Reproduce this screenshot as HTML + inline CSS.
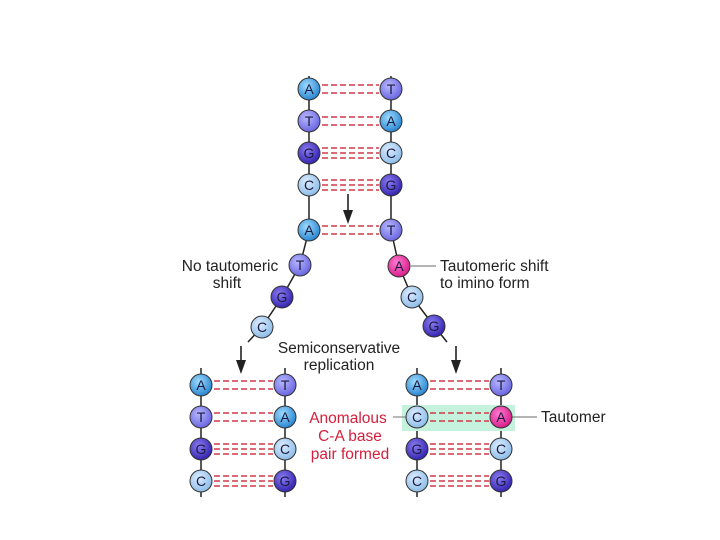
<!DOCTYPE html>
<html><head><meta charset="utf-8"><style>
html,body{margin:0;padding:0;background:#fff;}
svg{display:block;font-family:"Liberation Sans",sans-serif;}
</style></head><body>
<svg width="720" height="540" viewBox="0 0 720 540" xmlns="http://www.w3.org/2000/svg">
<defs>
<radialGradient id="gA" cx="40%" cy="35%" r="65%"><stop offset="0" stop-color="#9fdcff"/><stop offset="1" stop-color="#2a86d0"/></radialGradient>
<radialGradient id="gT" cx="40%" cy="35%" r="65%"><stop offset="0" stop-color="#b8b8ff"/><stop offset="1" stop-color="#6a66e0"/></radialGradient>
<radialGradient id="gG" cx="40%" cy="35%" r="65%"><stop offset="0" stop-color="#8a7cf0"/><stop offset="1" stop-color="#3424b0"/></radialGradient>
<radialGradient id="gC" cx="40%" cy="35%" r="65%"><stop offset="0" stop-color="#dcecff"/><stop offset="1" stop-color="#8ebde8"/></radialGradient>
<radialGradient id="gP" cx="40%" cy="35%" r="65%"><stop offset="0" stop-color="#ff7ad0"/><stop offset="1" stop-color="#d81e8a"/></radialGradient>
</defs>
<g stroke="#222" stroke-width="1.5" fill="none">
<line x1="309" y1="76" x2="309" y2="232"/><line x1="391" y1="76" x2="391" y2="232"/>
<polyline points="309,230 300,265 282,297 262,327 248,342"/>
<polyline points="391,230 399,266 412,297 434,326 447,342"/>
<line x1="201" y1="368" x2="201" y2="497"/><line x1="285" y1="368" x2="285" y2="497"/>
<line x1="417" y1="368" x2="417" y2="497"/><line x1="501" y1="368" x2="501" y2="497"/>
</g>
<g stroke="#222" stroke-width="1.6">
<line x1="348" y1="194" x2="348" y2="212"/>
<line x1="241" y1="346" x2="241" y2="362"/>
<line x1="456" y1="346" x2="456" y2="362"/>
</g>
<g fill="#222">
<polygon points="343,210 353,210 348,224"/>
<polygon points="236,360 246,360 241,374"/>
<polygon points="451,360 461,360 456,374"/>
</g>
<rect x="402" y="405" width="113" height="26" fill="#c4f2dc"/>
<g stroke="#d23a4a" stroke-width="1.5" stroke-dasharray="6,3">
<line x1="322" x2="379" y1="85" y2="85"/><line x1="322" x2="379" y1="93" y2="93"/>
<line x1="322" x2="379" y1="117" y2="117"/><line x1="322" x2="379" y1="125" y2="125"/>
<line x1="322" x2="379" y1="148" y2="148"/><line x1="322" x2="379" y1="153" y2="153"/><line x1="322" x2="379" y1="158" y2="158"/>
<line x1="322" x2="379" y1="180" y2="180"/><line x1="322" x2="379" y1="185" y2="185"/><line x1="322" x2="379" y1="190" y2="190"/>
<line x1="322" x2="379" y1="226" y2="226"/><line x1="322" x2="379" y1="234" y2="234"/>
<line x1="214" x2="273" y1="381" y2="381"/><line x1="214" x2="273" y1="389" y2="389"/>
<line x1="214" x2="273" y1="413" y2="413"/><line x1="214" x2="273" y1="421" y2="421"/>
<line x1="214" x2="273" y1="444" y2="444"/><line x1="214" x2="273" y1="449" y2="449"/><line x1="214" x2="273" y1="454" y2="454"/>
<line x1="214" x2="273" y1="476" y2="476"/><line x1="214" x2="273" y1="481" y2="481"/><line x1="214" x2="273" y1="486" y2="486"/>
<line x1="430" x2="489" y1="381" y2="381"/><line x1="430" x2="489" y1="389" y2="389"/>
<line x1="430" x2="489" y1="413" y2="413"/><line x1="430" x2="489" y1="421" y2="421"/>
<line x1="430" x2="489" y1="444" y2="444"/><line x1="430" x2="489" y1="449" y2="449"/><line x1="430" x2="489" y1="454" y2="454"/>
<line x1="430" x2="489" y1="476" y2="476"/><line x1="430" x2="489" y1="481" y2="481"/><line x1="430" x2="489" y1="486" y2="486"/>
</g>
<g stroke="#888" stroke-width="1.2">
<line x1="411" y1="266" x2="436" y2="266"/>
<line x1="393" y1="417" x2="406" y2="417"/>
<line x1="512" y1="417" x2="537" y2="417"/>
</g>
<g stroke="#333" stroke-width="1">
<circle cx="309" cy="89" r="11" fill="url(#gA)"/><circle cx="391" cy="89" r="11" fill="url(#gT)"/>
<circle cx="309" cy="121" r="11" fill="url(#gT)"/><circle cx="391" cy="121" r="11" fill="url(#gA)"/>
<circle cx="309" cy="153" r="11" fill="url(#gG)"/><circle cx="391" cy="153" r="11" fill="url(#gC)"/>
<circle cx="309" cy="185" r="11" fill="url(#gC)"/><circle cx="391" cy="185" r="11" fill="url(#gG)"/>
<circle cx="309" cy="230" r="11" fill="url(#gA)"/><circle cx="391" cy="230" r="11" fill="url(#gT)"/>
<circle cx="300" cy="265" r="11" fill="url(#gT)"/><circle cx="399" cy="266" r="11" fill="url(#gP)"/>
<circle cx="282" cy="297" r="11" fill="url(#gG)"/><circle cx="412" cy="297" r="11" fill="url(#gC)"/>
<circle cx="262" cy="327" r="11" fill="url(#gC)"/><circle cx="434" cy="326" r="11" fill="url(#gG)"/>
<circle cx="201" cy="385" r="11" fill="url(#gA)"/><circle cx="285" cy="385" r="11" fill="url(#gT)"/>
<circle cx="201" cy="417" r="11" fill="url(#gT)"/><circle cx="285" cy="417" r="11" fill="url(#gA)"/>
<circle cx="201" cy="449" r="11" fill="url(#gG)"/><circle cx="285" cy="449" r="11" fill="url(#gC)"/>
<circle cx="201" cy="481" r="11" fill="url(#gC)"/><circle cx="285" cy="481" r="11" fill="url(#gG)"/>
<circle cx="417" cy="385" r="11" fill="url(#gA)"/><circle cx="501" cy="385" r="11" fill="url(#gT)"/>
<circle cx="417" cy="417" r="11" fill="url(#gC)"/><circle cx="501" cy="417" r="11" fill="url(#gP)"/>
<circle cx="417" cy="449" r="11" fill="url(#gG)"/><circle cx="501" cy="449" r="11" fill="url(#gC)"/>
<circle cx="417" cy="481" r="11" fill="url(#gC)"/><circle cx="501" cy="481" r="11" fill="url(#gG)"/>
</g>
<g font-size="14" text-anchor="middle" fill="#1a1a40">
<text x="309" y="94">A</text><text x="391" y="94">T</text>
<text x="309" y="126">T</text><text x="391" y="126">A</text>
<text x="309" y="158">G</text><text x="391" y="158">C</text>
<text x="309" y="190">C</text><text x="391" y="190">G</text>
<text x="309" y="235">A</text><text x="391" y="235">T</text>
<text x="300" y="270">T</text><text x="399" y="271">A</text>
<text x="282" y="302">G</text><text x="412" y="302">C</text>
<text x="262" y="332">C</text><text x="434" y="331">G</text>
<text x="201" y="390">A</text><text x="285" y="390">T</text>
<text x="201" y="422">T</text><text x="285" y="422">A</text>
<text x="201" y="454">G</text><text x="285" y="454">C</text>
<text x="201" y="486">C</text><text x="285" y="486">G</text>
<text x="417" y="390">A</text><text x="501" y="390">T</text>
<text x="417" y="422">C</text><text x="501" y="422">A</text>
<text x="417" y="454">G</text><text x="501" y="454">C</text>
<text x="417" y="486">C</text><text x="501" y="486">G</text>
</g>
<g font-size="15.5" fill="#222">
<text x="230" y="271" text-anchor="middle">No tautomeric</text>
<text x="227" y="288" text-anchor="middle">shift</text>
<text x="440" y="271">Tautomeric shift</text>
<text x="440" y="288">to imino form</text>
<text x="339" y="353" text-anchor="middle">Semiconservative</text>
<text x="339" y="370" text-anchor="middle">replication</text>
<text x="541" y="422">Tautomer</text>
</g>
<g font-size="15.5" fill="#d4203c" text-anchor="middle">
<text x="348" y="423">Anomalous</text>
<text x="350" y="441">C-A base</text>
<text x="350" y="459">pair formed</text>
</g>
</svg>
</body></html>
